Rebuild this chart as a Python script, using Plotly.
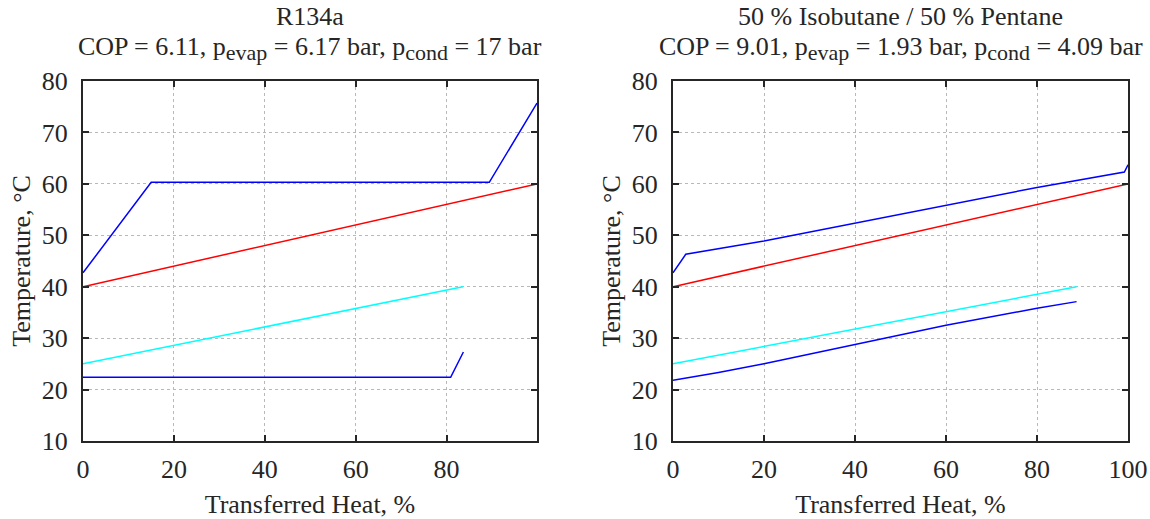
import plotly.graph_objects as go

# Left: R134a
l_hot_x = [0, 15, 89.4, 99.9]
l_hot_y = [42.7, 60.3, 60.3, 75.7]
l_sink_x = [0, 99.9]
l_sink_y = [40, 60]
l_src_x = [0, 83.6]
l_src_y = [25, 40]
l_cold_x = [0, 80.9, 83.7]
l_cold_y = [22.4, 22.4, 27.3]

# Right: 50% Isobutane / 50% Pentane
r_hot_x = [0, 2.8, 20, 40, 60, 80, 99.2, 100]
r_hot_y = [42.7, 46.3, 48.9, 52.4, 55.8, 59.3, 62.3, 63.7]
r_sink_x = [0, 100]
r_sink_y = [40, 60]
r_src_x = [0, 88.7]
r_src_y = [25, 40]
r_cold_x = [0, 10, 20, 40, 60, 80, 88.7]
r_cold_y = [21.8, 23.3, 25.0, 28.7, 32.5, 35.8, 37.1]

yticks = [10, 20, 30, 40, 50, 60, 70, 80]
l_xticks = [0, 20, 40, 60, 80]
r_xticks = [0, 20, 40, 60, 80, 100]

FONT = "Liberation Serif"
FS = 26
fig = go.Figure()

def add(x, y, color, xa, ya):
    fig.add_trace(go.Scatter(x=x, y=y, mode="lines", line=dict(color=color, width=1.5),
                             xaxis=xa, yaxis=ya, showlegend=False, hoverinfo="skip"))

add(l_sink_x, l_sink_y, "#ff0000", "x", "y")
add(l_src_x, l_src_y, "#00ffff", "x", "y")
add(l_hot_x, l_hot_y, "#0000ff", "x", "y")
add(l_cold_x, l_cold_y, "#0000ff", "x", "y")
add(r_sink_x, r_sink_y, "#ff0000", "x2", "y2")
add(r_src_x, r_src_y, "#00ffff", "x2", "y2")
add(r_hot_x, r_hot_y, "#0000ff", "x2", "y2")
add(r_cold_x, r_cold_y, "#0000ff", "x2", "y2")

W, H = 1150, 519
ydom = [1 - 441 / H, 1 - 81 / H]

axis_common = dict(
    showline=True, linecolor="#262626", linewidth=2, mirror="ticks",
    ticks="inside", ticklen=6, tickwidth=2, tickcolor="#262626",
    showgrid=True, gridcolor="#b8b8b8", griddash="dot", gridwidth=1,
    zeroline=False, automargin=False,
    tickfont=dict(family=FONT, size=FS, color="#262626"),
)
xt = dict(text="Transferred Heat, %", font=dict(family=FONT, size=FS, color="#262626"), standoff=20)
yt = dict(text="Temperature, °C", font=dict(family=FONT, size=FS, color="#262626"), standoff=4)

fig.update_layout(
    width=W, height=H, margin=dict(l=0, r=0, t=0, b=0),
    paper_bgcolor="white", plot_bgcolor="white",
    font=dict(family=FONT, color="#262626"),
    xaxis=dict(domain=[83 / W, 537 / W], range=[0, 99.9], tickvals=l_xticks,
               title=xt, anchor="y", ticklabelstandoff=4, **axis_common),
    yaxis=dict(domain=ydom, range=[10, 80], tickvals=yticks,
               title=yt, anchor="x", ticklabelstandoff=8, **axis_common),
    xaxis2=dict(domain=[673 / W, 1128 / W], range=[0, 100], tickvals=r_xticks,
                title=xt, anchor="y2", ticklabelstandoff=4, **axis_common),
    yaxis2=dict(domain=ydom, range=[10, 80], tickvals=yticks,
                title=yt, anchor="x2", ticklabelstandoff=8, **axis_common),
)

SUB = '<sub><span style="font-size:22px">{}</span></sub>'
titles = [
    ((83 + 537) / 2 / W, "R134a",
     "COP = 6.11, p" + SUB.format("evap") + " = 6.17 bar, p" + SUB.format("cond") + " = 17 bar"),
    ((673 + 1128) / 2 / W, "50 % Isobutane / 50 % Pentane",
     "COP = 9.01, p" + SUB.format("evap") + " = 1.93 bar, p" + SUB.format("cond") + " = 4.09 bar"),
]
for xc, t1, t2 in titles:
    fig.add_annotation(x=xc, y=1 - 17 / H, xref="paper", yref="paper", text=t1,
                       showarrow=False, font=dict(family=FONT, size=FS, color="#262626"),
                       xanchor="center", yanchor="middle")
    fig.add_annotation(x=xc, y=1 - 49 / H, xref="paper", yref="paper", text=t2,
                       showarrow=False, font=dict(family=FONT, size=FS, color="#262626"),
                       xanchor="center", yanchor="middle")

fig.write_html("out.html")
